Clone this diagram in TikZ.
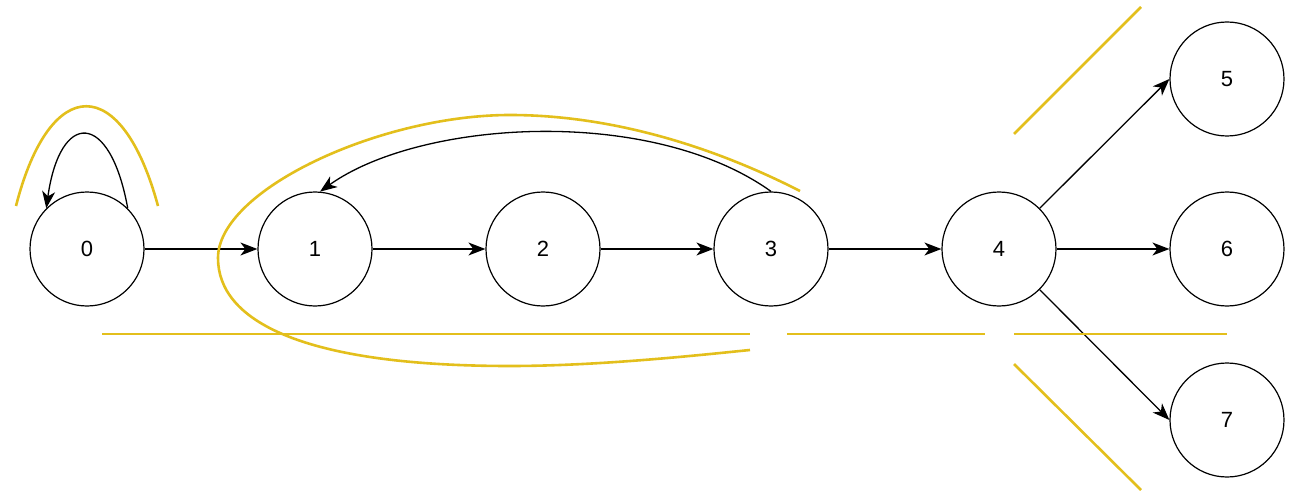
\documentclass[tikz,border=0pt]{standalone}
\usepackage{fontspec}
\setmainfont{Liberation Sans}
\usetikzlibrary{arrows.meta}
\definecolor{hl}{RGB}{227,191,28}
\begin{document}
\begin{tikzpicture}[x=1pt,y=-1pt,
  state/.style={circle,draw,line width=1.2pt,minimum size=114pt,inner sep=0pt,
    font=\fontsize{22}{26}\selectfont},
  edge/.style={line width=1.3pt,-{Stealth[length=17pt,width=13pt,inset=5pt]}},
  mark line/.style={hl,line width=2.6pt}]
\useasboundingbox (0,0) rectangle (1302,492);

% states
\node[state] (n0) at (87,249) {0};
\node[state] (n1) at (315,249) {1};
\node[state] (n2) at (543,249) {2};
\node[state] (n3) at (771,249) {3};
\node[state] (n4) at (999,249) {4};
\node[state] (n5) at (1227,79) {5};
\node[state] (n6) at (1227,249) {6};
\node[state] (n7) at (1227,420) {7};

% transitions
\draw[edge] (n0.45) .. controls (110,110) and (60,110) .. (n0.135);
\draw[edge] (n0) -- (n1);
\draw[edge] (n1) -- (n2);
\draw[edge] (n2) -- (n3);
\draw[edge] (n3) -- (n4);
\draw[edge] (n3.90) .. controls (650,105) and (420,120) .. (n1.85);
\draw[edge] (n4.45) -- (n5.west);
\draw[edge] (n4) -- (n6);
\draw[edge] (n4.-45) -- (n7.west);

% highlight strokes
\draw[mark line] (16,206) .. controls (50,73) and (122,73) .. (158,206);
\draw[mark line] (800,191) .. controls (700,140) and (600,115) .. (510,115)
  .. controls (380,115) and (218,190) .. (218,258)
  .. controls (218,320) and (300,366) .. (510,366)
  .. controls (600,366) and (700,355) .. (750,350);
\draw[mark line] (102,334) -- (750,334);
\draw[mark line] (787,334) -- (985,334);
\draw[mark line] (1014,334) -- (1227,334);
\draw[mark line] (1014,134) -- (1141,7);
\draw[mark line] (1014,364) -- (1141,490);
\end{tikzpicture}
\end{document}
